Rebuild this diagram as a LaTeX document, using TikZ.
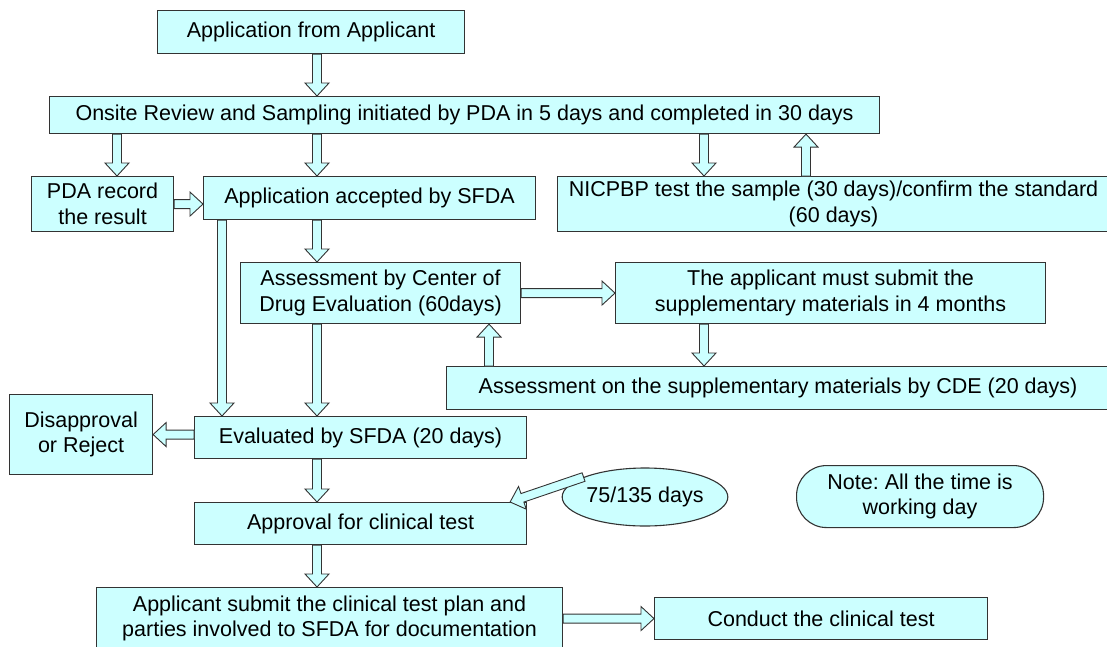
\documentclass[tikz,border=0pt]{standalone}
\usepackage{fontspec}
\setmainfont{Liberation Sans}
\usetikzlibrary{calc,shapes.geometric}

\definecolor{boxcyan}{RGB}{204,255,255}
\tikzset{
  box/.style={draw=black!80, fill=boxcyan, line width=1.1pt, anchor=north west,
    inner sep=0pt, align=center, font=\fontsize{21.5}{25.5}\selectfont},
  blkarrow/.style={draw=black!80, fill=boxcyan, line width=0.9pt, line join=miter}
}
% hollow block arrow from #1 to #2
\newcommand{\blk}[2]{%
  \path #1 coordinate (ba) #2 coordinate (bb);
  \filldraw[blkarrow] ($(ba)!4.5pt!90:(bb)$) -- ($(bb)!13pt!(ba)!4.5pt!90:(bb)$)
    -- ($(bb)!13pt!(ba)!12pt!90:(bb)$) -- (bb) -- ($(bb)!13pt!(ba)!12pt!-90:(bb)$)
    -- ($(bb)!13pt!(ba)!4.5pt!-90:(bb)$) -- ($(ba)!4.5pt!-90:(bb)$) -- cycle;}
\frenchspacing

\begin{document}
\begin{tikzpicture}[x=1pt,y=-1pt]
  \useasboundingbox (0,0) rectangle (1107,646);
  \clip (0,0) rectangle (1107,646);
  % columns of the vertical arrows
  \coordinate (c0) at (117,0);
  \coordinate (c1) at (317,0);
  \coordinate (c2) at (222,0);
  \coordinate (c3) at (704,0);
  \coordinate (c4) at (806,0);
  \coordinate (c5) at (489,0);

  \node[box, minimum width=307, minimum height=43] (appl) at (157,10) {Application from Applicant};
  \node[box, minimum width=830, minimum height=37] (onsite) at (49,96) {Onsite Review and Sampling initiated by PDA in 5 days and completed in 30 days};
  \node[box, minimum width=142, minimum height=55] (pda) at (31,176) {PDA record\\the result};
  \node[box, minimum width=332, minimum height=43] (accepted) at (203,176) {Application accepted by SFDA};
  \node[box, minimum width=552, minimum height=55] (nicpbp) at (557,176) {NICPBP test the sample (30 days)/confirm the standard\\(60 days)};
  \node[box, minimum width=280, minimum height=61] (cde) at (240,262) {Assessment by Center of\\Drug Evaluation (60days)};
  \node[box, minimum width=430, minimum height=61] (applicant) at (615,262) {The applicant must submit the\\supplementary materials in 4 months};
  \node[box, minimum width=663, minimum height=43] (supp) at (446,366) {Assessment on the supplementary materials by CDE (20 days)};
  \node[box, minimum width=143, minimum height=80] (disap) at (9,394) {Disapproval\\or Reject};
  \node[box, minimum width=332, minimum height=42] (evaluated) at (194,416) {Evaluated by SFDA (20 days)};
  \node[box, minimum width=332, minimum height=42] (approval) at (194,502) {Approval for clinical test};
  \node[box, minimum width=466, minimum height=62] (submit) at (96,587) {Applicant submit the clinical test plan and\\parties involved to SFDA for documentation};
  \node[box, minimum width=333, minimum height=42] (conduct) at (654,597) {Conduct the clinical test};
  \node[box, ellipse, anchor=center, minimum width=159, minimum height=58] (days) at (645,497) {75/135 days};
  \node[box, rounded corners=30pt, minimum width=247, minimum height=62] (note) at (796,465) {Note: All the time is\\working day};
  \coordinate (aptip) at ($(approval.north east)+(-17,0)$);

  \blk{(appl.south -| c1)}{(onsite.north -| c1)}
  \blk{(onsite.south -| c0)}{(pda.north -| c0)}
  \blk{(onsite.south -| c1)}{(accepted.north -| c1)}
  \blk{(onsite.south -| c3)}{(nicpbp.north -| c3)}
  \blk{(nicpbp.north -| c4)}{(onsite.south -| c4)}
  \blk{(pda.east)}{(pda.east -| accepted.west)}
  \blk{(accepted.south -| c1)}{(cde.north -| c1)}
  \blk{(accepted.south -| c2)}{(evaluated.north -| c2)}
  \blk{(cde.east)}{(applicant.west)}
  \blk{(applicant.south -| c3)}{(supp.north -| c3)}
  \blk{(supp.north -| c5)}{(cde.south -| c5)}
  \blk{(cde.south -| c1)}{(evaluated.north -| c1)}
  \blk{(evaluated.west |- disap.east)}{(disap.east)}
  \blk{(evaluated.south -| c1)}{(approval.north -| c1)}
  \blk{(days.162)}{(aptip)}
  \blk{(approval.south -| c1)}{(submit.north -| c1)}
  \blk{(submit.east |- conduct.west)}{(conduct.west)}
\end{tikzpicture}
\end{document}
